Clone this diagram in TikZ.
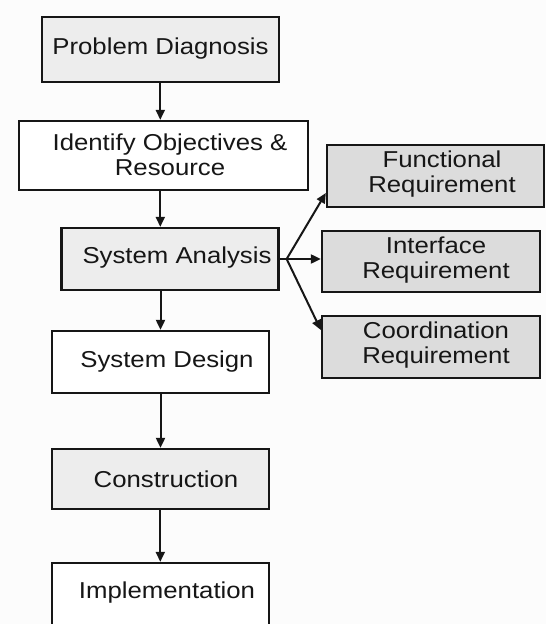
\documentclass[tikz,border=0pt]{standalone}
\usepackage{fontspec}
\setmainfont{Liberation Sans}[FakeStretch=1.12]
\usetikzlibrary{arrows.meta}
\definecolor{ink}{HTML}{161616}
\definecolor{paper}{HTML}{FCFCFC}
\definecolor{lightfill}{HTML}{EDEDED}
\definecolor{reqfill}{HTML}{DCDCDC}
\tikzset{
  box/.style={draw=ink, line width=2.3pt, rectangle, inner sep=0pt},
  plainbox/.style={box, fill=white},
  greybox/.style={box, fill=lightfill},
  reqbox/.style={box, fill=reqfill},
  txt/.style={text=ink, align=center, inner sep=0pt,
    font=\fontsize{23}{25}\selectfont},
  arr/.style={draw=ink, line width=2pt, -{Triangle[length=10pt,width=9pt]}},
  link/.style={draw=ink, line width=2pt}
}
\begin{document}
\begin{tikzpicture}[x=1pt,y=-1pt]
  % page
  \fill[paper] (0,0) rectangle (546,624);
  \useasboundingbox (0,0) rectangle (546,624);
  \clip (0,0) rectangle (546,624);

  % main chain of stages
  \node (PD) [greybox, minimum width=237pt, minimum height=65pt] at (160.3,49.5) {};
  \node (ID) [plainbox, minimum width=289pt, minimum height=69pt] at (163.5,155.5) {};
  \node (SA) [greybox, minimum width=217pt, minimum height=62pt] at (170,259) {};
  \node (SD) [plainbox, minimum width=217pt, minimum height=62pt] at (160.5,362) {};
  \node (CO) [greybox, minimum width=217pt, minimum height=60pt] at (160.3,479) {};
  \node (IM) [plainbox, minimum width=217pt, minimum height=62pt] at (160.3,594) {};

  % requirement boxes
  \node (FR) [reqbox, minimum width=217pt, minimum height=62pt] at (435.5,176) {};
  \node (IR) [reqbox, minimum width=218pt, minimum height=61pt] at (431,261.5) {};
  \node (CR) [reqbox, minimum width=218pt, minimum height=62pt] at (431,347) {};

  % labels
  \node (PDt) [txt] at (160.5,49) {Problem Diagnosis};
  \node (IDt) [txt] at (170,154.5) {Identify Objectives \&\\Resource};
  \node (SAt) [txt] at (177,258) {System Analysis};
  \node (SDt) [txt] at (167,362) {System Design};
  \node (COt) [txt] at (166,479) {Construction};
  \node (IMt) [txt] at (167,593) {Implementation};
  \node (FRt) [txt] at (442,174.5) {Functional\\Requirement};
  \node (IRt) [txt] at (436,260) {Interface\\Requirement};
  \node (CRt) [txt] at (436,345) {Coordination\\Requirement};

  % flow arrows down the chain
  \draw[arr] (PD.south) -- (PD.south |- ID.north);
  \draw[arr] (ID.south -| PD.south) -- (SA.north -| PD.south);
  \draw[arr] (SA.south -| SD.north) -- (SD.north);
  \draw[arr] (SD.south) -- (SD.south |- CO.north);
  \draw[arr] (CO.south) -- (CO.south |- IM.north);

  % fan-out from System Analysis
  \coordinate (br) at ([xshift=7pt]SA.east);
  \draw[link] (SA.east) -- (br);
  \draw[arr] (br) -- ([yshift=-17pt]FR.west);
  \draw[arr] (br) -- (IR.west |- br);
  \draw[arr] (br) -- ([yshift=17pt]CR.west);
\end{tikzpicture}
\end{document}
